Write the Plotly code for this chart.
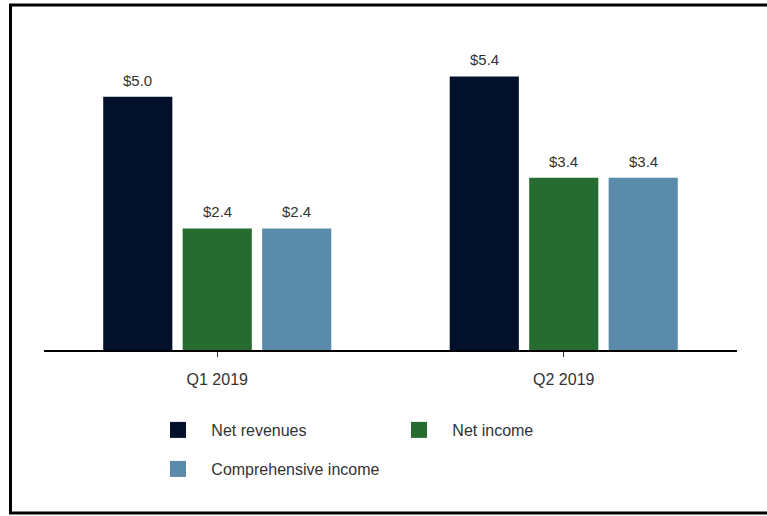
import plotly.graph_objects as go

quarters = ["Q1 2019", "Q2 2019"]
net_revenues = [5.0, 5.4]
net_income = [2.4, 3.4]
comprehensive_income = [2.4, 3.4]

series = [
    ("Net revenues", net_revenues, "#02102c", "legend"),
    ("Net income", net_income, "#266c31", "legend"),
    ("Comprehensive income", comprehensive_income, "#5a8bab", "legend2"),
]

W, H = 767, 516
L, R, T, B = 44, 30, 46, 166
plot_w = W - L - R
plot_h = H - T - B
BARGAP = 0.312
GROUPGAP = 0.13

font = "Liberation Sans, Arial, sans-serif"
text_color = "#333333"
pad = "\u00a0" * 3

# horizontal distance between neighbouring bars of a group, in pixels
slot_px = (1 - BARGAP) * (plot_w / len(quarters)) / len(series)

fig = go.Figure()
annotations = []
for i, (name, vals, color, lg) in enumerate(series):
    fig.add_trace(go.Bar(
        x=quarters, y=vals, name=name,
        marker=dict(color=color, line=dict(width=0)),
        showlegend=False,
    ))
    # legend entry with a larger square swatch
    fig.add_trace(go.Scatter(
        x=[None], y=[None], mode="markers", name=pad + name,
        marker=dict(symbol="square", size=16, color=color),
        legend=lg, showlegend=True,
    ))
    for q, v in zip(quarters, vals):
        annotations.append(dict(
            x=q, y=v, xref="x", yref="y", text=f"${v:.1f}",
            showarrow=False, yanchor="bottom",
            xshift=(i - (len(series) - 1) / 2) * slot_px, yshift=6,
            font=dict(family=font, size=15, color=text_color),
        ))


def px_x(p):
    return (p - L) / plot_w


def px_y(p):
    return (H - B - p) / plot_h


fig.update_layout(
    width=W, height=H,
    margin=dict(l=L, r=R, t=T, b=B),
    paper_bgcolor="white", plot_bgcolor="white",
    barmode="group", bargap=BARGAP, bargroupgap=GROUPGAP,
    font=dict(family=font, color=text_color),
    xaxis=dict(
        showline=True, linecolor="black", linewidth=1.5,
        ticks="outside", ticklen=5, tickcolor="#333333", tickwidth=1,
        tickfont=dict(family=font, size=16, color=text_color),
        ticklabelstandoff=9,
        showgrid=False, zeroline=False,
    ),
    yaxis=dict(range=[0, 6.0], visible=False, showgrid=False, zeroline=False),
    legend=dict(
        orientation="h", x=px_x(158), y=px_y(413), xanchor="left", yanchor="top",
        entrywidth=196, entrywidthmode="pixels",
        font=dict(family=font, size=16, color=text_color),
        bgcolor="rgba(0,0,0,0)",
    ),
    legend2=dict(
        orientation="h", x=px_x(158), y=px_y(452), xanchor="left", yanchor="top",
        font=dict(family=font, size=16, color=text_color),
        bgcolor="rgba(0,0,0,0)",
    ),
    annotations=annotations,
    shapes=[dict(
        type="rect", xref="paper", yref="paper",
        x0=px_x(10.5), x1=px_x(790), y0=px_y(513), y1=px_y(5),
        line=dict(color="black", width=3), layer="below",
    )],
)

fig.write_html("out.html")
